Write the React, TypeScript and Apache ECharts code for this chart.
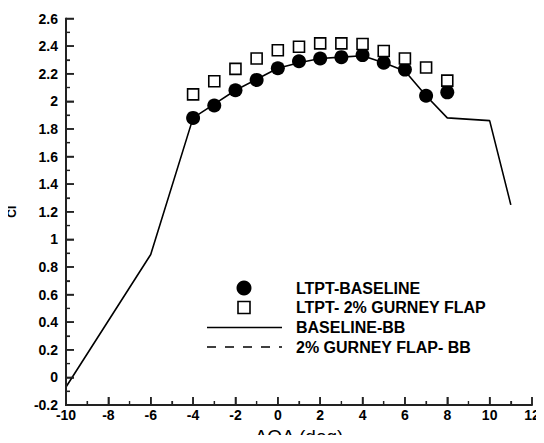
import React, { useEffect, useRef } from "react";
import * as echarts from "echarts";

const baselineBB: [number, number][] = [
  [-10, -0.07], [-6, 0.89], [-4, 1.88], [-3, 1.98], [-2, 2.08], [-1, 2.16], [0, 2.24],
  [1, 2.28], [2, 2.31], [3, 2.32], [4, 2.33], [5, 2.28], [6, 2.22], [7, 2.04],
  [8, 1.88], [10, 1.86], [11, 1.25],
];
const gurneyBB: [number, number][] = [];
const ltptBaseline: [number, number][] = [
  [-4, 1.88], [-3, 1.97], [-2, 2.08], [-1, 2.155], [0, 2.24], [1, 2.29], [2, 2.31],
  [3, 2.32], [4, 2.335], [5, 2.28], [6, 2.23], [7, 2.04], [8, 2.065],
];
const ltptGurney: [number, number][] = [
  [-4, 2.05], [-3, 2.145], [-2, 2.235], [-1, 2.31], [0, 2.37], [1, 2.395], [2, 2.42],
  [3, 2.42], [4, 2.415], [5, 2.365], [6, 2.31], [7, 2.245], [8, 2.15],
];
const legendNames = ["LTPT-BASELINE", "LTPT- 2% GURNEY FLAP", "BASELINE-BB", "2% GURNEY FLAP- BB"];
const X_MIN = -10, X_MAX = 12, X_STEP = 2;
const Y_MIN = -0.2, Y_MAX = 2.6, Y_STEP = 0.2;

const font = "'Liberation Sans', Arial, sans-serif";
const AX = "#222";

function axisFrame(_params: any, api: any) {
  const children: any[] = [];
  const seg = (a: number[], b: number[], w: number) =>
    children.push({ type: "line", shape: { x1: a[0], y1: a[1], x2: b[0], y2: b[1] }, style: { stroke: AX, lineWidth: w } });
  const o = api.coord([X_MIN, Y_MIN]);
  const t = api.coord([X_MIN, Y_MAX]);
  const r = api.coord([X_MAX, Y_MIN]);
  seg([o[0], o[1] + 1], t, 2);
  seg([o[0] - 1, o[1]], r, 2);
  const ny = Math.round((Y_MAX - Y_MIN) / Y_STEP);
  for (let i = 0; i <= ny; i++) {
    const p = api.coord([X_MIN, Y_MIN + i * Y_STEP]);
    if (i > 0) seg(p, [p[0] + 8, p[1]], 1.5);
    if (i < ny) {
      const m = api.coord([X_MIN, Y_MIN + (i + 0.5) * Y_STEP]);
      seg(m, [m[0] + 4, m[1]], 1.2);
    }
  }
  const nx = Math.round((X_MAX - X_MIN) / X_STEP);
  for (let i = 0; i <= nx; i++) {
    const p = api.coord([X_MIN + i * X_STEP, Y_MIN]);
    if (i > 0) seg(p, [p[0], p[1] - 8], 1.5);
    if (i < nx) {
      const m = api.coord([X_MIN + (i + 0.5) * X_STEP, Y_MIN]);
      seg(m, [m[0], m[1] - 4], 1.2);
    }
  }
  return { type: "group", children };
}

export default function App() {
  const ref = useRef<HTMLDivElement>(null);
  useEffect(() => {
    const chart = echarts.init(ref.current!, null, { renderer: "svg" });
    const lx = 207, lw = 75, tx = 296;
    const ly = [288, 307.5, 327.5, 347];
    chart.setOption({
      animation: false,
      grid: { left: 66, top: 18.5, right: 12, bottom: 38, outerBoundsMode: "none", containLabel: false },
      graphic: [
        { type: "circle", shape: { cx: 244, cy: ly[0], r: 7.5 }, style: { fill: "#000" } },
        { type: "rect", shape: { x: 238, y: ly[1] - 6, width: 12, height: 12 }, style: { fill: "#fff", stroke: "#000", lineWidth: 1.6 } },
        { type: "line", shape: { x1: lx, y1: ly[2], x2: lx + lw, y2: ly[2] }, style: { stroke: "#000", lineWidth: 1.6 } },
        { type: "line", shape: { x1: lx, y1: ly[3], x2: lx + lw, y2: ly[3] }, style: { stroke: "#000", lineWidth: 1.6, lineDash: [9, 9] } },
        ...legendNames.map((n, i) => ({
          type: "text",
          x: tx,
          y: ly[i],
          style: { text: n, fill: "#000", font: `bold 16px ${font}`, verticalAlign: "middle" },
        })),
      ],
      xAxis: {
        type: "value",
        position: "bottom",
        min: X_MIN,
        max: X_MAX,
        interval: X_STEP,
        name: "AOA (deg)",
        nameLocation: "middle",
        nameGap: 18,
        nameTextStyle: { fontFamily: font, fontSize: 19, color: "#000" },
        axisLine: { show: true, onZero: false, lineStyle: { color: AX, width: 2 } },
        axisTick: { show: true, inside: true, length: 8, lineStyle: { color: AX, width: 1.5 } },
        minorTick: { show: true, splitNumber: 2, length: 4, lineStyle: { color: AX, width: 1.2 } },
        axisLabel: { show: true, color: "#000", fontSize: 14, fontWeight: "bold", margin: 3, fontFamily: font },
        splitLine: { show: false },
      },
      yAxis: {
        type: "value",
        position: "left",
        min: Y_MIN,
        max: Y_MAX,
        interval: Y_STEP,
        name: "Cl",
        nameLocation: "middle",
        nameGap: 48,
        nameRotate: 90,
        nameTextStyle: { fontFamily: font, fontSize: 12, fontWeight: "bold", color: "#000" },
        axisLine: { show: true, onZero: false, lineStyle: { color: AX, width: 2 } },
        axisTick: { show: true, inside: true, length: 8, lineStyle: { color: AX, width: 1.5 } },
        minorTick: { show: true, splitNumber: 2, length: 4, lineStyle: { color: AX, width: 1.2 } },
        axisLabel: {
          show: true, color: "#000", fontSize: 14, fontWeight: "bold", margin: 8, fontFamily: font,
          formatter: (v: number) => String(Math.round(v * 10) / 10),
        },
        splitLine: { show: false },
      },
      series: [
        {
          name: "axes",
          type: "custom",
          renderItem: axisFrame,
          data: [[X_MIN, Y_MIN]],
          clip: false,
          silent: true,
          z: 5,
        },
        {
          name: "BASELINE-BB",
          type: "line",
          data: baselineBB,
          symbol: "none",
          showSymbol: false,
          lineStyle: { color: "#000", width: 1.6 },
          itemStyle: { color: "#000" },
          z: 1,
        },
        {
          name: "2% GURNEY FLAP- BB",
          type: "line",
          data: gurneyBB,
          symbol: "none",
          showSymbol: false,
          lineStyle: { color: "#000", width: 1.6, type: [8, 9] },
          itemStyle: { color: "#000" },
          z: 1,
        },
        {
          name: "LTPT-BASELINE",
          type: "scatter",
          data: ltptBaseline,
          symbol: "circle",
          symbolSize: 14,
          itemStyle: { color: "#000", opacity: 1 },
          z: 3,
        },
        {
          name: "LTPT- 2% GURNEY FLAP",
          type: "scatter",
          data: ltptGurney,
          symbol: "rect",
          symbolSize: 11,
          itemStyle: { color: "#fff", borderColor: "#000", borderWidth: 1.6, opacity: 1 },
          z: 4,
        },
      ],
    });
    return () => chart.dispose();
  }, []);
  return <div ref={ref} style={{ width: 544, height: 443, margin: -8 }} />;
}
